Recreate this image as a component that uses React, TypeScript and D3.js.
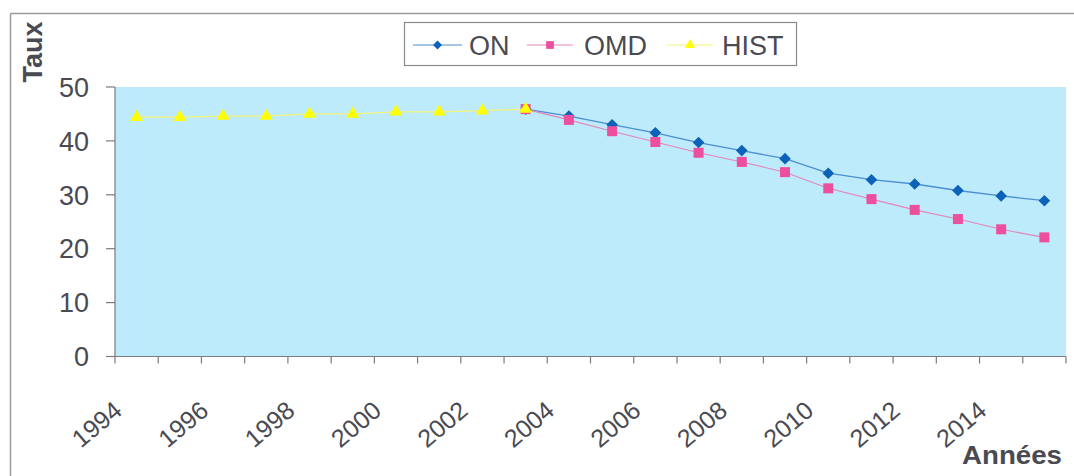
import React from "react";
import * as d3 from "d3";

const years = ["1994","1995","1996","1997","1998","1999","2000","2001","2002","2003","2004","2005","2006","2007","2008","2009","2010","2011","2012","2013","2014","2015"];
const labelYears = ["1994","1996","1998","2000","2002","2004","2006","2008","2010","2012","2014"];
const histYears = ["1994","1995","1996","1997","1998","1999","2000","2001","2002","2003"];
const histValues = [44.4, 44.4, 44.6, 44.6, 45.0, 45.0, 45.4, 45.4, 45.6, 45.9];
const projYears = ["2003","2004","2005","2006","2007","2008","2009","2010","2011","2012","2013","2014","2015"];
const onValues = [45.9, 44.6, 43.0, 41.5, 39.7, 38.2, 36.7, 34.0, 32.8, 32.0, 30.8, 29.8, 28.9];
const omdValues = [45.9, 43.9, 41.8, 39.8, 37.8, 36.1, 34.2, 31.2, 29.2, 27.2, 25.5, 23.6, 22.1];
const yTicks = [0, 10, 20, 30, 40, 50];

const W = 1074, H = 476;
const plot = { left: 115, right: 1066, top: 87, bottom: 356.5 };
const font = "Arial, 'Liberation Sans', sans-serif";
const textColor = "#4a4a52";
const axisColor = "#7b7b80";

const ON_COLOR = "#0b62b8";
const ON_LINE = "#4b8fd2";
const OMD_COLOR = "#ec4f9d";
const OMD_LINE = "#e585b7";
const HIST_COLOR = "#ffff00";
const HIST_LINE = "#f4f47a";

export default function App() {
  const x = d3.scaleBand<string>().domain(years).range([plot.left, plot.right]).paddingInner(0).paddingOuter(0);
  const bw = x.bandwidth();
  const cx = (yr: string) => (x(yr) as number) + bw / 2;
  const y = d3.scaleLinear().domain([0, 50]).range([plot.bottom, plot.top]);

  type P = [string, number];
  const line = d3.line<P>().x((d) => cx(d[0])).y((d) => y(d[1]));
  const histPts: P[] = histYears.map((yr, i) => [yr, histValues[i]]);
  const onPts: P[] = projYears.map((yr, i) => [yr, onValues[i]]);
  const omdPts: P[] = projYears.map((yr, i) => [yr, omdValues[i]]);

  const diamond = d3.symbol().type(d3.symbolSquare).size(68)() as string;
  const square = d3.symbol().type(d3.symbolSquare).size(100)() as string;
  const triangle = d3.symbol().type(d3.symbolTriangle).size(72)() as string;
  const diamondL = d3.symbol().type(d3.symbolSquare).size(40)() as string;
  const squareL = d3.symbol().type(d3.symbolSquare).size(60)() as string;
  const triangleL = d3.symbol().type(d3.symbolTriangle).size(45)() as string;

  const boundaries = [...years.map((yr) => x(yr) as number), plot.right];

  const legendY = 45;
  const legendItems = [
    { name: "ON", x0: 413, x1: 462, tx: 469, line: ON_LINE, path: diamondL, fill: ON_COLOR, rot: 45 },
    { name: "OMD", x0: 527, x1: 573, tx: 584, line: OMD_LINE, path: squareL, fill: OMD_COLOR, rot: 0 },
    { name: "HIST", x0: 667, x1: 713, tx: 722, line: HIST_LINE, path: triangleL, fill: HIST_COLOR, rot: 0 },
  ];

  return (
    <svg width={W} height={H} style={{ position: "absolute", left: 0, top: 0, background: "#fff" }} fontFamily={font}>
      {/* outer chart border (left and top visible) */}
      <line x1={10.5} y1={13.5} x2={W} y2={13.5} stroke="#9a9aa0" strokeWidth={1.5} />
      <line x1={10.5} y1={13.5} x2={10.5} y2={H} stroke="#9a9aa0" strokeWidth={1.5} />

      {/* plot area */}
      <rect x={plot.left} y={plot.top} width={plot.right - plot.left} height={plot.bottom - plot.top} fill="#bdebfc" />

      {/* y axis */}
      <line x1={plot.left} y1={plot.top} x2={plot.left} y2={plot.bottom} stroke={axisColor} strokeWidth={1.2} />
      {yTicks.map((t) => (
        <g key={t}>
          <line x1={plot.left - 9} x2={plot.left} y1={y(t)} y2={y(t)} stroke={axisColor} strokeWidth={1.2} />
          <text x={89} y={y(t)} dy="0.36em" textAnchor="end" fontSize={27} fill={textColor}>{t}</text>
        </g>
      ))}

      {/* x axis */}
      <line x1={plot.left} y1={plot.bottom} x2={plot.right} y2={plot.bottom} stroke={axisColor} strokeWidth={1.2} />
      {boundaries.map((bx, i) => (
        <line key={i} x1={bx} x2={bx} y1={plot.bottom} y2={plot.bottom + 7} stroke={axisColor} strokeWidth={1.2} />
      ))}
      {labelYears.map((yr) => {
        const ax = cx(yr) - 13;
        const ay = 413;
        return (
          <text key={yr} x={ax} y={ay} textAnchor="end" fontSize={25} fill={textColor} transform={`rotate(-40 ${ax} ${ay})`}>{yr}</text>
        );
      })}

      {/* axis titles */}
      <text x={0} y={0} transform="translate(42 52) rotate(-90)" textAnchor="middle" fontSize={27} fontWeight="bold" fill={textColor}>Taux</text>
      <text x={1062} y={464} textAnchor="end" fontSize={26} fontWeight="bold" fill={textColor} textLength={100} lengthAdjust="spacingAndGlyphs">Années</text>

      {/* series */}
      <path d={line(onPts) as string} fill="none" stroke={ON_LINE} strokeWidth={1.3} />
      {onPts.map((p) => (
        <path key={"on" + p[0]} d={diamond} transform={`translate(${cx(p[0])} ${y(p[1])}) rotate(45)`} fill={ON_COLOR} />
      ))}
      <path d={line(omdPts) as string} fill="none" stroke={OMD_LINE} strokeWidth={1.1} />
      {omdPts.map((p) => (
        <path key={"omd" + p[0]} d={square} transform={`translate(${cx(p[0])} ${y(p[1])})`} fill={OMD_COLOR} />
      ))}
      <path d={line(histPts) as string} fill="none" stroke={HIST_LINE} strokeWidth={1.3} />
      {histPts.map((p) => (
        <path key={"h" + p[0]} d={triangle} transform={`translate(${cx(p[0])} ${y(p[1])})`} fill={HIST_COLOR} />
      ))}

      {/* legend */}
      <rect x={404.5} y={22.5} width={392} height={43} fill="#fff" stroke="#8a8a90" strokeWidth={1.2} />
      {legendItems.map((it) => (
        <g key={it.name}>
          <line x1={it.x0} x2={it.x1} y1={legendY} y2={legendY} stroke={it.line} strokeWidth={1.2} />
          <path d={it.path} transform={`translate(${(it.x0 + it.x1) / 2} ${legendY}) rotate(${it.rot})`} fill={it.fill} />
          <text x={it.tx} y={legendY} dy="0.36em" fontSize={27} fill={textColor}>{it.name}</text>
        </g>
      ))}
    </svg>
  );
}
